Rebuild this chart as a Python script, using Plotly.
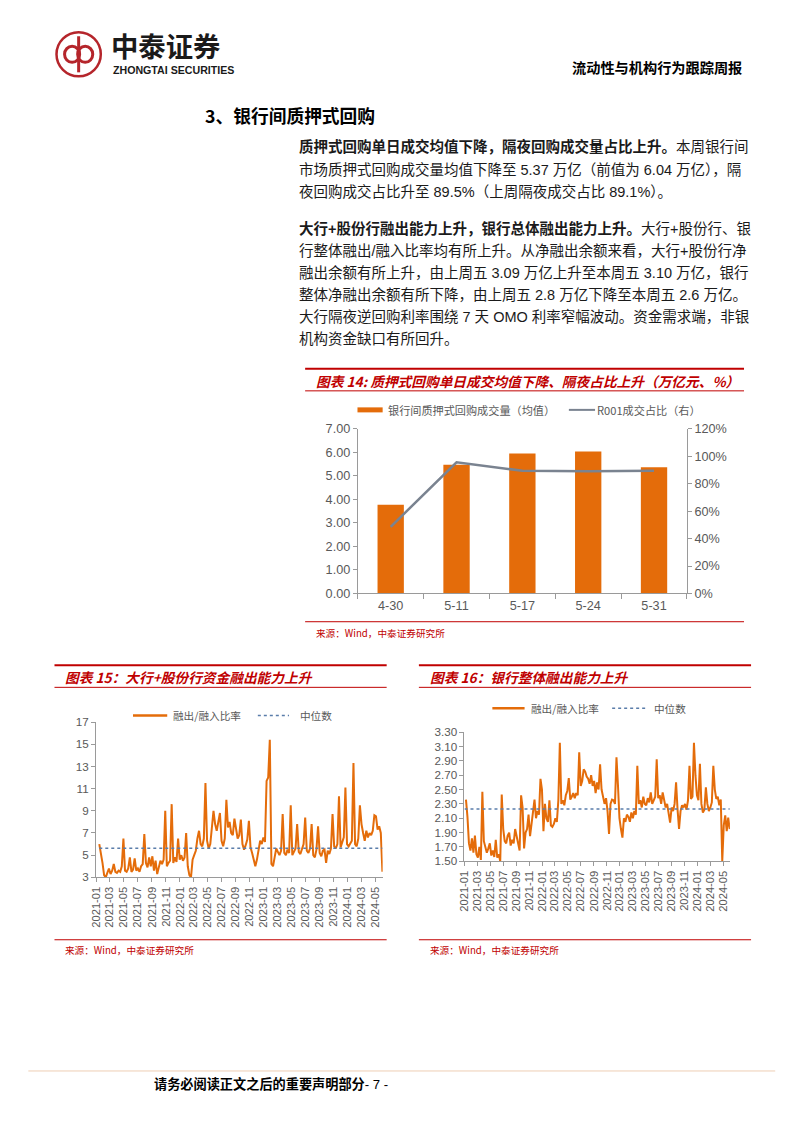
import plotly.graph_objects as go
import pandas as pd

# empirical placement correction so that reference pixel positions land where intended
S, D = 0.986, 16.0
W, H = 802, 1132
def fx(p): return (p / S - D) / W
def fy(p): return 1 - (p / S - D) / H
def fs(s): return s / S

# ---------------- data ----------------
cat14 = ["4-30", "5-11", "5-17", "5-24", "5-31"]
repo_vol = [3.77, 5.48, 5.95, 6.04, 5.37]
r001_share = [0.486, 0.957, 0.895, 0.891, 0.895]

c15_start = "2021-01-15"
c15_vals = [
    # 2021
    6.0, 5.2, 4.3, 3.2, 3.0, 3.4, 3.8, 3.3, 3.6, 4.2, 3.5, 3.4, 3.6, 3.5, 4.0, 6.5,
    3.6, 3.5, 3.8, 4.8, 3.5, 3.7, 4.7, 3.6, 3.8, 3.5, 4.0, 4.2, 6.9, 4.3, 3.9, 4.8, 4.0,
    4.9, 3.6, 4.5, 3.3, 3.9, 4.5, 4.2, 4.6, 9.0, 4.0, 4.3, 4.5, 9.6, 4.3, 4.8, 4.4, 6.5, 4.6,
    # 2022
    5.0, 4.5, 4.8, 7.0, 4.0, 3.2, 3.0, 4.6, 5.0, 5.4, 6.5, 7.2, 6.0, 5.8, 6.5, 11.5, 6.3,
    5.6, 6.0, 7.5, 9.0, 7.8, 7.2, 8.0, 8.8, 6.3, 5.8, 6.5, 10.0, 7.5, 8.0, 7.0, 6.8, 8.3,
    7.2, 6.5, 6.8, 8.2, 6.0, 5.5, 5.9, 6.4, 8.1, 5.7, 5.2, 4.5, 4.0, 4.6, 5.5, 6.3, 6.0, 6.6,
    # 2023
    6.2, 11.7, 12.0, 15.4, 4.2, 4.0, 4.8, 5.6, 5.3, 5.0, 5.4, 8.7, 5.2, 5.0, 5.5, 5.2, 9.5,
    5.0, 5.3, 5.6, 7.8, 5.3, 5.1, 5.5, 6.0, 8.4, 5.4, 5.2, 5.6, 7.8, 5.0, 4.8, 5.5, 7.6,
    5.2, 4.9, 5.4, 5.5, 4.3, 5.4, 5.1, 5.6, 8.7, 5.8, 5.6, 6.0, 10.3, 5.7, 6.2, 6.6, 11.1, 6.0,
    # 2024
    5.8, 6.0, 6.3, 13.3, 6.0, 5.8, 6.5, 9.5, 7.8, 7.0, 6.3, 7.2, 6.6, 7.0, 6.8, 7.2, 8.6,
    8.5, 7.3, 7.6, 7.0, 3.5,
]
c15_median = 5.62

c16_start = "2021-01-08"
c16_vals = [
    # 2021
    2.36, 2.12, 1.75, 1.65, 1.82, 1.62, 1.86, 1.60, 1.55, 1.70, 1.52, 2.47, 1.78, 1.70, 1.62, 1.68, 1.75,
    1.58, 1.65, 1.56, 1.80, 1.55, 1.60, 1.50, 2.43, 1.95, 1.78, 1.75, 1.86, 1.90, 1.72, 1.80, 1.75, 1.95,
    1.85, 1.72, 1.65, 2.42, 2.25, 1.68, 1.90, 1.95, 2.15, 1.85, 2.05, 2.18, 2.36, 2.10, 2.20, 2.15, 2.65, 2.50,
    # 2022
    1.92, 2.30, 2.10, 2.05, 2.35, 2.00, 1.98, 2.02, 2.10, 2.05, 2.35, 3.15, 2.30, 2.35, 2.28, 2.42, 2.48,
    2.66, 2.36, 2.40, 2.45, 2.38, 2.45, 2.42, 3.02, 2.55, 2.62, 2.78, 2.75, 2.68, 2.65, 2.58, 2.70, 2.55,
    2.62, 2.45, 2.60, 2.50, 2.85, 2.50, 2.42, 2.30, 2.38, 2.20, 1.88, 2.30, 2.36, 2.35, 2.30, 2.95, 2.56, 2.10,
    # 2023
    1.95, 1.83, 2.10, 2.05, 2.15, 2.12, 2.05, 2.18, 2.10, 2.20, 2.15, 2.83, 2.30, 2.35, 2.25, 2.40, 2.30,
    2.28, 2.38, 2.32, 2.46, 2.30, 2.35, 2.40, 2.92, 2.38, 2.42, 2.30, 2.46, 2.35, 2.25, 2.30, 2.18, 2.04,
    2.25, 2.20, 2.30, 2.60, 2.22, 1.95, 2.20, 2.28, 2.25, 2.30, 2.22, 2.35, 2.83, 2.37, 2.40, 3.15, 2.70, 2.42,
    # 2024
    2.35, 2.86, 2.30, 2.18, 2.22, 2.53, 2.30, 2.20, 2.25, 2.32, 2.83, 2.50, 2.37, 2.40, 2.28, 2.36, 1.50,
    2.00, 2.14, 1.92, 2.11, 1.95,
]
c16_median = 2.23
series_end = "2024-05-31"

c15_dates = pd.date_range(c15_start, periods=len(c15_vals), freq="7D")
c16_dates = pd.date_range(c16_start, periods=len(c16_vals), freq="7D")

# ---------------- styles ----------------
ORANGE = "#E46C0A"
GREY_LINE = "#7A8390"
RED = "#C00000"
AXIS = "#9A9A9A"
TICKC = "#595959"
MEDC = "#5A7DAA"
CJK = "Noto Sans CJK SC"
LAT = "Liberation Sans, Noto Sans CJK SC"

fig = go.Figure()

# Chart 14
fig.add_trace(go.Bar(x=cat14, y=repo_vol, marker=dict(color=ORANGE, line=dict(width=0)),
                     xaxis="x", yaxis="y", name="银行间质押式回购成交量（均值）", showlegend=False))
fig.add_trace(go.Scatter(x=cat14, y=r001_share, mode="lines", line=dict(color=GREY_LINE, width=2.5),
                         xaxis="x", yaxis="y2", name="R001成交占比（右）", showlegend=False))

# Chart 15
fig.add_trace(go.Scatter(x=c15_dates, y=c15_vals, mode="lines", line=dict(color=ORANGE, width=2),
                         xaxis="x2", yaxis="y3", name="融出/融入比率", showlegend=False))
fig.add_trace(go.Scatter(x=[c15_start, series_end], y=[c15_median, c15_median], mode="lines",
                         line=dict(color=MEDC, width=1.5, dash="dot"),
                         xaxis="x2", yaxis="y3", name="中位数", showlegend=False))

# Chart 16
fig.add_trace(go.Scatter(x=c16_dates, y=c16_vals, mode="lines", line=dict(color=ORANGE, width=2),
                         xaxis="x3", yaxis="y4", name="融出/融入比率", showlegend=False))
fig.add_trace(go.Scatter(x=["2021-01-01", series_end], y=[c16_median, c16_median], mode="lines",
                         line=dict(color=MEDC, width=1.5, dash="dot"),
                         xaxis="x3", yaxis="y4", name="中位数", showlegend=False))

axis_common = dict(showgrid=False, zeroline=False, showline=True, linecolor=AXIS, linewidth=1,
                   ticks="outside", tickcolor=AXIS, ticklen=4,
                   tickfont=dict(family=LAT, size=fs(12), color=TICKC))

fig.update_layout(
    width=W, height=H, margin=dict(l=0, r=0, t=0, b=0),
    paper_bgcolor="white", plot_bgcolor="white", bargap=0.6,
    xaxis=dict(axis_common, domain=[fx(357.3), fx(684.3)], anchor="y", type="category",
               tickson="boundaries", ticklen=5,
               tickfont=dict(family=LAT, size=fs(12.5), color=TICKC)),
    yaxis=dict(axis_common, domain=[fy(593.3), fy(429)], anchor="x", range=[0, 7], dtick=1,
               tickformat=".2f", tickfont=dict(family=LAT, size=fs(12.5), color=TICKC)),
    yaxis2=dict(axis_common, overlaying="y", side="right", anchor="x", range=[0, 1.2], dtick=0.2,
                tickformat=".0%", tickfont=dict(family=LAT, size=fs(12.5), color=TICKC)),
    xaxis2=dict(axis_common, domain=[fx(97.3), fx(382)], anchor="y3", type="date",
                range=["2021-01-01", "2024-06-01"], dtick="M2", tick0="2021-01-01",
                tickformat="%Y-%m", tickangle=-90, tickfont=dict(family=LAT, size=fs(11), color=TICKC)),
    yaxis3=dict(axis_common, domain=[fy(876.7), fy(721.7)], anchor="x2", range=[3, 17],
                dtick=2, tick0=3, tickfont=dict(family=LAT, size=fs(11.5), color=TICKC)),
    xaxis3=dict(axis_common, domain=[fx(463.3), fx(727)], anchor="y4", type="date",
                range=["2021-01-01", "2024-06-01"], dtick="M2", tick0="2021-01-01",
                tickformat="%Y-%m", tickangle=-90, tickfont=dict(family=LAT, size=fs(11), color=TICKC)),
    yaxis4=dict(axis_common, domain=[fy(860.7), fy(731.7)], anchor="x3", range=[1.5, 3.3],
                dtick=0.2, tick0=1.5, tickformat=".2f", tickfont=dict(family=LAT, size=fs(11.5), color=TICKC)),
)

shapes = []
ann = []

def hline(x0, x1, y, color, width, dash=None):
    d = dict(type="line", xref="paper", yref="paper", x0=fx(x0), x1=fx(x1), y0=fy(y), y1=fy(y),
             line=dict(color=color, width=width))
    if dash:
        d["line"]["dash"] = dash
    shapes.append(d)

def text(x, y, s, size, color="#000000", family=CJK, anchor="left"):
    ann.append(dict(x=fx(x), y=fy(y), xref="paper", yref="paper", text=s, showarrow=False,
                    xanchor=anchor, yanchor="middle", font=dict(family=family, size=fs(size), color=color)))

# ---------- logo ----------
LOGO_RED = "#B5252B"
shapes.append(dict(type="circle", xref="paper", yref="paper", x0=fx(58), x1=fx(102), y0=fy(77), y1=fy(33),
                   line=dict(color=LOGO_RED, width=2.5)))
shapes.append(dict(type="circle", xref="paper", yref="paper", x0=fx(66), x1=fx(81), y0=fy(63), y1=fy(47),
                   line=dict(color=LOGO_RED, width=3)))
shapes.append(dict(type="circle", xref="paper", yref="paper", x0=fx(79), x1=fx(94), y0=fy(63), y1=fy(47),
                   line=dict(color=LOGO_RED, width=3)))
shapes.append(dict(type="line", xref="paper", yref="paper", x0=fx(80), x1=fx(80), y0=fy(37), y1=fy(73),
                   line=dict(color=LOGO_RED, width=3)))
text(110, 46, "<b>中泰证券</b>", 27, "#1A1A1A")
text(112, 71, "<b>ZHONGTAI SECURITIES</b>", 10.5, "#1A1A1A", family="Liberation Sans")

# header right
text(741, 68, "<b>流动性与机构行为跟踪周报</b>", 14, "#000000", anchor="right")

# section title
text(204, 116, "<b>3、银行间质押式回购</b>", 17.5, "#000000")

# paragraphs
para_lines = [
    (147, "<b>质押式回购单日成交均值下降，隔夜回购成交量占比上升。</b>本周银行间"),
    (170, "市场质押式回购成交量均值下降至 5.37 万亿（前值为 6.04 万亿），隔"),
    (192, "夜回购成交占比升至 89.5%（上周隔夜成交占比 89.1%）。"),
    (229, "<b>大行+股份行融出能力上升，银行总体融出能力上升。</b>大行+股份行、银"),
    (251, "行整体融出/融入比率均有所上升。从净融出余额来看，大行+股份行净"),
    (273, "融出余额有所上升，由上周五 3.09 万亿上升至本周五 3.10 万亿，银行"),
    (295, "整体净融出余额有所下降，由上周五 2.8 万亿下降至本周五 2.6 万亿。"),
    (317, "大行隔夜逆回购利率围绕 7 天 OMO 利率窄幅波动。资金需求端，非银"),
    (339, "机构资金缺口有所回升。"),
]
for y, s in para_lines:
    text(297, y, s, 14.3, "#1A1A1A", family=LAT)

# ---------- chart 14 frame ----------
hline(305, 741, 369, RED, 2)
hline(305, 741, 391, RED, 1)
text(314, 381, "<b><i>图表 14: 质押式回购单日成交均值下降、隔夜占比上升（万亿元、%）</i></b>", 13.5, RED)
shapes.append(dict(type="rect", xref="paper", yref="paper", x0=fx(357), x1=fx(382), y0=fy(412.5), y1=fy(407.5),
                   fillcolor=ORANGE, line=dict(width=0)))
text(385, 410, "银行间质押式回购成交量（均值）", 11, TICKC)
hline(567, 593, 410, GREY_LINE, 2)
text(593, 410, "R001成交占比（右）", 11, TICKC)
hline(305, 741, 621.5, RED, 1)
text(314, 633, "来源：Wind，中泰证券研究所", 9.5, RED)

# ---------- chart 15 frame ----------
hline(56, 386, 665, RED, 2)
hline(56, 386, 687, RED, 1)
text(64, 677, "<b><i>图表 15：大行+股份行资金融出能力上升</i></b>", 13.5, RED)
hline(134, 168, 715, ORANGE, 2.5)
text(172, 715, "融出/融入比率", 10.5, TICKC)
hline(258, 289, 715, MEDC, 1.5, "dot")
text(298, 715, "中位数", 10.5, TICKC)
hline(56, 386, 939, RED, 1)
text(64, 949, "来源：Wind，中泰证券研究所", 9.5, RED)

# ---------- chart 16 frame ----------
hline(418, 748, 665, RED, 2)
hline(418, 748, 687, RED, 1)
text(427, 677, "<b><i>图表 16：银行整体融出能力上升</i></b>", 13.5, RED)
hline(491, 523, 708, ORANGE, 2.5)
text(527, 708, "融出/融入比率", 10.5, TICKC)
hline(610, 643, 708, MEDC, 1.5, "dot")
text(650, 708, "中位数", 10.5, TICKC)
hline(418, 748, 939, RED, 1)
text(427, 949, "来源：Wind，中泰证券研究所", 9.5, RED)

# ---------- footer ----------
hline(30, 772, 1070, "#EFCFB4", 1)
text(153, 1083, "<b>请务必阅读正文之后的重要声明部分</b>- 7 -", 13, "#000000", family=LAT)

fig.update_layout(shapes=shapes, annotations=ann)
fig.write_html("out.html")
